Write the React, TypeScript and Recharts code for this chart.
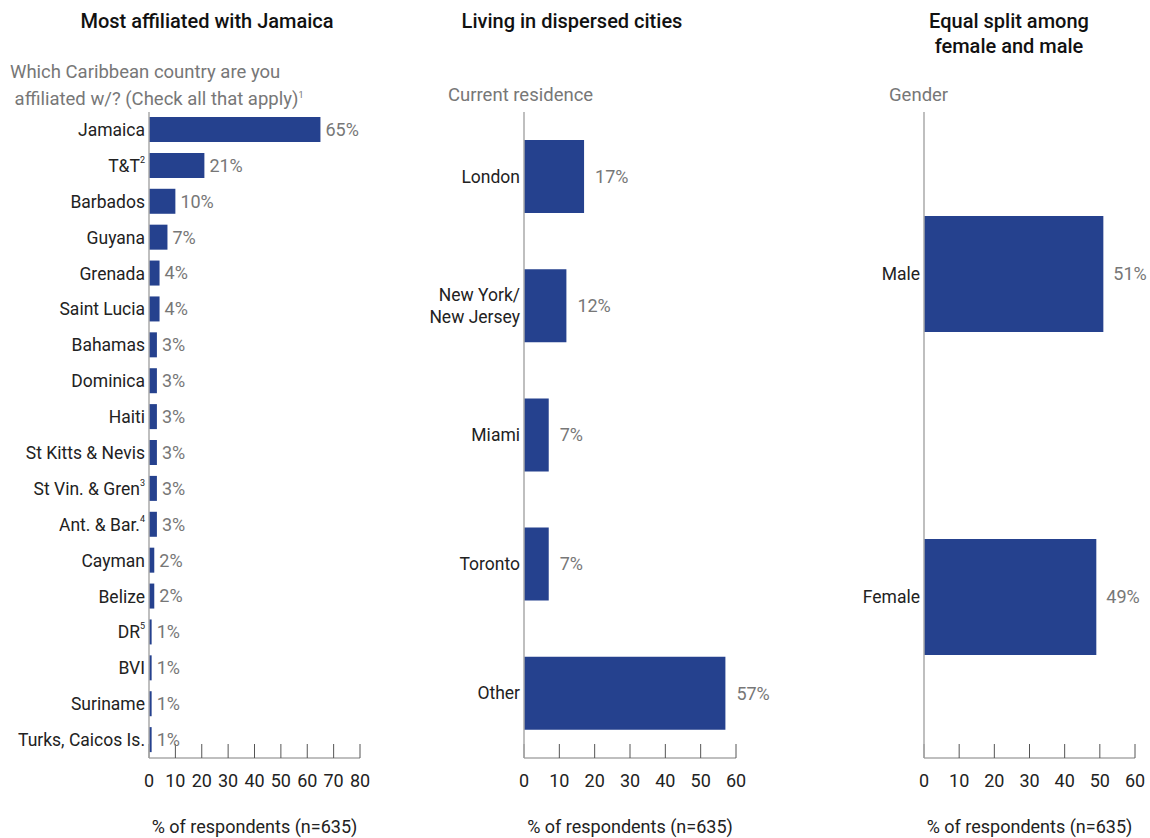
import { BarChart, Bar, XAxis, YAxis, LabelList, Label } from "recharts";

const countryNames = [
  "Jamaica", "T&T", "Barbados", "Guyana", "Grenada", "Saint Lucia", "Bahamas", "Dominica", "Haiti",
  "St Kitts & Nevis", "St Vin. & Gren", "Ant. & Bar.", "Cayman", "Belize", "DR", "BVI", "Suriname", "Turks, Caicos Is.",
];
const countryNotes = ["", "2", "", "", "", "", "", "", "", "", "3", "4", "", "", "5", "", "", ""];
const countryValues = [65, 21, 10, 7, 4, 4, 3, 3, 3, 3, 3, 3, 2, 2, 1, 1, 1, 1];

const cityNames = ["London", "New York/\nNew Jersey", "Miami", "Toronto", "Other"];
const cityValues = [17, 12, 7, 7, 57];

const genderNames = ["Male", "Female"];
const genderValues = [51, 49];

const ticks80 = [0, 10, 20, 30, 40, 50, 60, 70, 80];
const ticks60 = [0, 10, 20, 30, 40, 50, 60];

const BAR = "#25418E";
const FONT = "Roboto, 'Noto Sans', sans-serif";
const AXIS_LABEL = "% of respondents (n=635)";

const countryData = countryNames.map((name, i) => ({ name, note: countryNotes[i], value: countryValues[i] }));
const cityData = cityNames.map((name, i) => ({ name, note: "", value: cityValues[i] }));
const genderData = genderNames.map((name, i) => ({ name, note: "", value: genderValues[i] }));

const notesFor = (data: { name: string; note: string }[]) =>
  Object.fromEntries(data.map((d) => [d.name, d.note]));

function CategoryTick(props: any) {
  const { x, y, payload, notes } = props;
  const lines = String(payload.value).split("\n");
  const note = notes[payload.value];
  const lh = 22;
  const start = y - ((lines.length - 1) * lh) / 2;
  return (
    <text x={x} y={start} textAnchor="end" fill="#222" fontSize={17.5} fontFamily={FONT} dominantBaseline="central">
      {lines.map((l, i) => (
        <tspan key={i} x={x} y={start + i * lh}>
          {l}
          {note && i === lines.length - 1 ? (
            <tspan fontSize={9} dy={-6}>
              {note}
            </tspan>
          ) : null}
        </tspan>
      ))}
    </text>
  );
}

function Panel(props: {
  data: any[];
  width: number;
  yWidth: number;
  right: number;
  barSize: number;
  max: number;
  ticks: number[];
  labelOffset: number;
}) {
  const { data, width, yWidth, right, barSize, max, ticks, labelOffset } = props;
  const notes = notesFor(data);
  return (
    <BarChart
      layout="vertical"
      width={width}
      height={838}
      data={data}
      margin={{ top: 112, right, bottom: 50, left: 0 }}
      barCategoryGap={0}
    >
      <XAxis
        type="number"
        domain={[0, max]}
        ticks={ticks}
        interval={0}
        axisLine={{ stroke: "#aaa", strokeWidth: 1.5 }}
        tickLine={{ stroke: "#555" }}
        tickSize={-14}
        tickMargin={30}
        tick={{ fill: "#222", fontSize: 18, fontFamily: FONT }}
        height={30}
      >
        <Label value={AXIS_LABEL} position="bottom" offset={32} fill="#222" fontSize={18} fontFamily={FONT} />
      </XAxis>
      <YAxis
        type="category"
        dataKey="name"
        width={yWidth}
        axisLine={{ stroke: "#aaa", strokeWidth: 1.5 }}
        tickLine={false}
        tickSize={0}
        tickMargin={4}
        interval={0}
        tick={<CategoryTick notes={notes} />}
      />
      <Bar dataKey="value" fill={BAR} barSize={barSize} isAnimationActive={false}>
        <LabelList
          dataKey="value"
          position="right"
          offset={labelOffset}
          formatter={(v: any) => `${v}%`}
          fill="#777"
          fontSize={18}
          fontFamily={FONT}
        />
      </Bar>
    </BarChart>
  );
}

const titleStyle: React.CSSProperties = {
  position: "absolute",
  fontFamily: FONT,
  fontSize: 20,
  fontWeight: 500,
  color: "#111",
  textAlign: "center",
  lineHeight: "25px",
};
const subStyle: React.CSSProperties = {
  position: "absolute",
  fontFamily: FONT,
  fontSize: 18.5,
  color: "#777",
  lineHeight: "23px",
};

export default function App() {
  return (
    <div style={{ position: "absolute", left: 0, top: 0, width: 1150, height: 838, background: "#fff", overflow: "hidden" }}>
      <div style={{ ...titleStyle, left: 57, width: 300, top: 9 }}>Most affiliated with Jamaica</div>
      <div style={{ ...subStyle, left: 10, top: 61 }}>
        Which Caribbean country are you
        <br />
        &nbsp;affiliated w/? (Check all that apply)<sup style={{ fontSize: 9 }}>1</sup>
      </div>
      <div style={{ ...titleStyle, left: 422, width: 300, top: 9 }}>Living in dispersed cities</div>
      <div style={{ ...subStyle, left: 448, top: 84 }}>Current residence</div>
      <div style={{ ...titleStyle, left: 859, width: 300, top: 9 }}>
        Equal split among
        <br />
        female and male
      </div>
      <div style={{ ...subStyle, left: 889, top: 84 }}>Gender</div>

      <div style={{ position: "absolute", left: 0, top: 0 }}>
        <Panel data={countryData} width={380} yWidth={149} right={20} barSize={25} max={80} ticks={ticks80} labelOffset={5} />
      </div>
      <div style={{ position: "absolute", left: 380, top: 0 }}>
        <Panel data={cityData} width={390} yWidth={144} right={34} barSize={73} max={60} ticks={ticks60} labelOffset={11} />
      </div>
      <div style={{ position: "absolute", left: 770, top: 0 }}>
        <Panel data={genderData} width={380} yWidth={154} right={15} barSize={116} max={60} ticks={ticks60} labelOffset={10} />
      </div>
    </div>
  );
}
